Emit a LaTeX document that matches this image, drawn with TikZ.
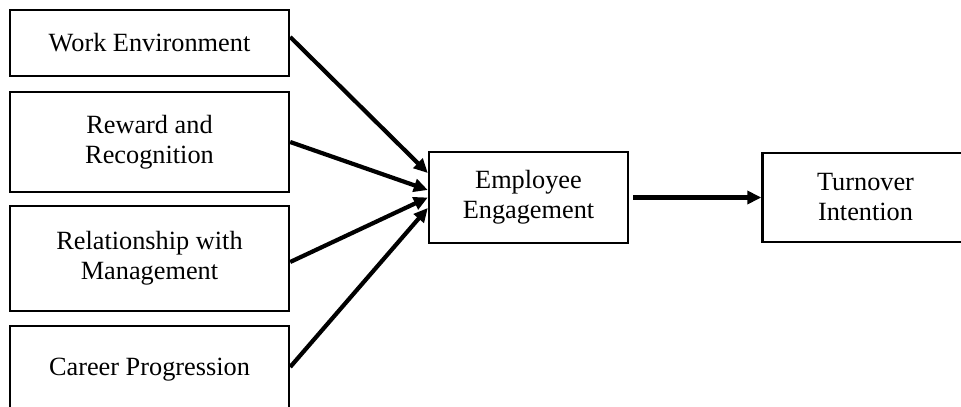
\documentclass[tikz,border=0pt]{standalone}
\usepackage{fontspec}
\setmainfont{Liberation Serif}
\usepackage{tikz}
\usetikzlibrary{arrows.meta,positioning}

\begin{document}
\begin{tikzpicture}[
x=0.5pt, y=-0.5pt,
font=\fontsize{13.15}{15}\selectfont,
factor/.style={draw, line width=1.2pt, align=center, inner sep=0pt, minimum width=139.5pt},
construct/.style={draw, line width=1.2pt, align=center, inner sep=0pt, minimum width=99.5pt, minimum height=45.5pt},
link/.style={line width=2.1pt, -{Triangle[length=7pt,width=6.5pt]}}
]
    \clip (0,0) rectangle (961,406);

    % Draw factor boxes
    \node[factor, minimum height=33pt] (work) at (149.5,43) {Work Environment};
    \node[factor, minimum height=50pt] (reward) at (149.5,142) {Reward and\\Recognition};
    \node[factor, minimum height=52.5pt] (relation) at (149.5,258.5) {Relationship with\\Management};
    \node[factor, minimum height=44pt] (career) at (149.5,370) {Career Progression};

    % Draw outcome boxes
    \node[construct] (engage) at (528.5,197.5) {Employee\\Engagement};
    \node[construct, minimum width=103pt, minimum height=44.5pt] (turnover) at (865.5,197.5) {Turnover\\Intention};

    \draw[link] ([yshift=3pt]work.east) -- ([yshift=12.25pt]engage.west);
    \draw[link] (reward.east) -- ([yshift=3.75pt]engage.west);
    \draw[link] ([yshift=-1.75pt]relation.east) -- (engage.west);
    \draw[link] ([yshift=1.5pt]career.east) -- ([yshift=-5.25pt]engage.west);

    \draw[link, shorten <=2pt] (engage) -- (turnover);
\end{tikzpicture}
\end{document}
